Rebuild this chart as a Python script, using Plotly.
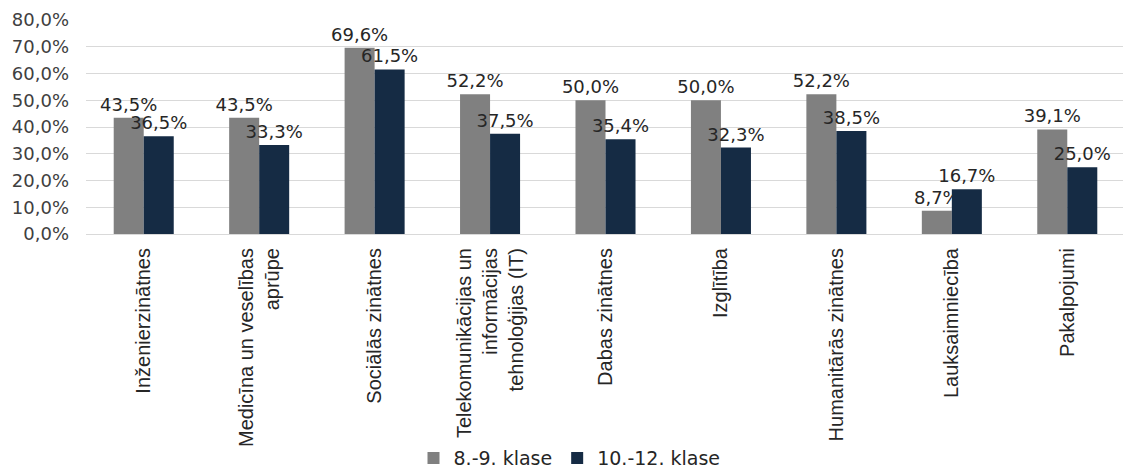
import plotly.graph_objects as go

categories = [
    "Inženierzinātnes",
    "Medicīna un veselības<br>aprūpe",
    "Sociālās zinātnes",
    "Telekomunikācijas un<br>informācijas<br>tehnoloģijas (IT)",
    "Dabas zinātnes",
    "Izglītība",
    "Humanitārās zinātnes",
    "Lauksaimniecība",
    "Pakalpojumi",
]
series_names = ["8.-9. klase", "10.-12. klase"]
values_8_9 = [43.5, 43.5, 69.6, 52.2, 50.0, 50.0, 52.2, 8.7, 39.1]
values_10_12 = [36.5, 33.3, 61.5, 37.5, 35.4, 32.3, 38.5, 16.7, 25.0]
y_ticks = [0, 10, 20, 30, 40, 50, 60, 70, 80]
y_tick_labels = [f"{v:.1f}%".replace(".", ",") for v in y_ticks]

WIDE = "DejaVu Sans, sans-serif"
NARROW = "Liberation Sans, Arial, sans-serif"
colors = ["#808080", "#152B44"]

fig = go.Figure()
for name, vals, col in zip(series_names, [values_8_9, values_10_12], colors):
    fig.add_trace(go.Bar(
        x=categories, y=vals, name=name,
        marker=dict(color=col, line=dict(width=0)),
        text=[f"{v:.1f}%".replace(".", ",") for v in vals],
        textposition="outside",
        textfont=dict(family=WIDE, size=18, color="#262626"),
        constraintext="none", cliponaxis=False,
    ))

fig.update_layout(
    width=1123, height=463,
    barmode="group", bargap=0.48, bargroupgap=0,
    plot_bgcolor="white", paper_bgcolor="white",
    margin=dict(l=78, r=6, t=12, b=237),
    font=dict(family=WIDE, size=18, color="#404040"),
    showlegend=True,
    legend=dict(orientation="h", xref="container", x=0.5, xanchor="center", yref="container",
                y=0.028, yanchor="middle", bgcolor="rgba(0,0,0,0)",
                font=dict(family=WIDE, size=19, color="#262626"),
                itemwidth=30, traceorder="normal"),
    xaxis=dict(tickangle=-90, showline=True, linecolor="#d9d9d9", linewidth=1,
               ticks="outside", ticklen=5, tickcolor="rgba(0,0,0,0)", automargin=False,
               tickfont=dict(family=NARROW, size=20, color="#262626")),
    yaxis=dict(range=[0, 80], tickvals=y_ticks, ticktext=y_tick_labels, automargin=False,
               showgrid=True, gridcolor="#d9d9d9", gridwidth=1, zeroline=False,
               ticklabelstandoff=16,
               tickfont=dict(family=WIDE, size=18, color="#404040")),
)

fig.write_html("out.html")
